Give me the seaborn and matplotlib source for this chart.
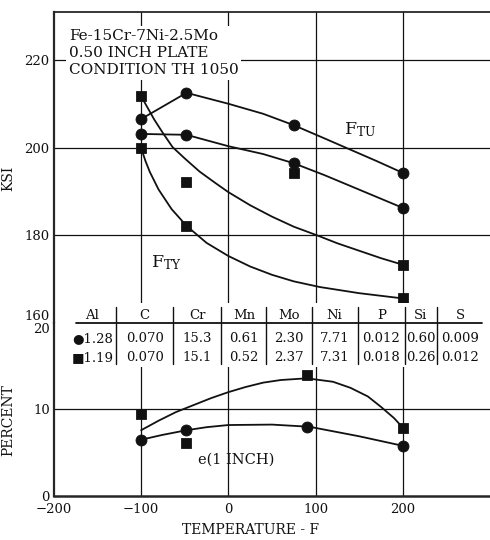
import numpy as np
import matplotlib
matplotlib.use("Agg")
import matplotlib.pyplot as plt
from matplotlib.patches import Rectangle
import seaborn as sns

# ---- strength curves (ksi) ----
FTU_HI_T = [-100, -48, 0, 40, 75, 110, 140, 170, 200]
FTU_HI_KSI = [206.6, 212.6, 210.1, 207.8, 205.2, 202.2, 199.6, 197.0, 194.3]
FTU_LO_T = [-100, -48, 0, 40, 75, 110, 140, 170, 200]
FTU_LO_KSI = [203.2, 203.0, 200.4, 198.6, 196.5, 193.8, 191.3, 188.8, 186.3]
FTY_HI_T = [-100, -92, -85, -75, -64, -50, -33, -15, 0, 25, 50, 75, 102, 125, 150, 175, 200]
FTY_HI_KSI = [211.8, 209.0, 206.5, 203.4, 200.2, 197.6, 194.6, 192.0, 189.9,
              186.9, 184.3, 182.0, 180.0, 178.2, 176.5, 174.8, 173.3]
FTY_LO_T = [-100, -95, -90, -80, -65, -48, -25, 0, 25, 50, 75, 105, 150, 200]
FTY_LO_KSI = [200.0, 197.0, 194.5, 190.5, 186.0, 182.2, 178.3, 175.3, 172.9,
              171.0, 169.5, 168.2, 166.8, 165.6]

# test points
KSI_CIRCLE_T = [-100, -100, -48, -48, 75, 75, 200, 200]
KSI_CIRCLE = [206.6, 203.2, 212.6, 203.0, 205.2, 196.6, 194.3, 186.3]
KSI_SQUARE_T = [-100, -100, -48, -48, 75, 200, 200]
KSI_SQUARE = [211.8, 200.0, 192.1, 182.2, 194.2, 173.3, 165.6]

# ---- elongation (percent) ----
ELONG_HI_T = [-100, -80, -60, -40, -20, 0, 20, 40, 60, 90, 120, 140, 160, 175, 190, 200]
ELONG_HI = [7.6, 8.7, 9.7, 10.5, 11.3, 12.0, 12.6, 13.1, 13.4, 13.6, 13.2, 12.5,
            11.5, 10.3, 9.0, 7.9]
ELONG_LO_T = [-100, -76, -48, -25, 0, 50, 93, 150, 200]
ELONG_LO = [6.5, 7.05, 7.6, 7.95, 8.2, 8.25, 8.0, 6.9, 5.8]
PCT_CIRCLE_T = [-100, -48, 90, 200]
PCT_CIRCLE = [6.5, 7.6, 8.0, 5.8]
PCT_SQUARE_T = [-100, -48, 90, 200]
PCT_SQUARE = [9.5, 6.1, 14.0, 7.8]

# ---- chemistry table ----
ELEMENTS = ["Al", "C", "Cr", "Mn", "Mo", "Ni", "P", "Si", "S"]
HEAT_CIRCLE = ["●1.28", "0.070", "15.3", "0.61", "2.30", "7.71", "0.012", "0.60", "0.009"]
HEAT_SQUARE = ["■1.19", "0.070", "15.1", "0.52", "2.37", "7.31", "0.018", "0.26", "0.012"]

X_TICKS = [-200, -100, 0, 100, 200]
KSI_TICKS = [160, 180, 200, 220]
PCT_TICKS = [0, 10, 20]

INK = "#111111"

sns.set_style("white")
plt.rcParams["font.family"] = ["DejaVu Serif", "DejaVu Sans"]
plt.rcParams["mathtext.fontset"] = "dejavuserif"

fig = plt.figure(figsize=(4.9, 5.4), dpi=100)
ax1 = fig.add_axes([0.110, 0.402, 0.890, 0.576])
ax2 = fig.add_axes([0.110, 0.0815, 0.890, 0.3205])

for ax in (ax1, ax2):
    ax.set_xlim(-200, 300)
    ax.set_xticks(X_TICKS)
    ax.tick_params(axis="x", length=0, labelsize=9.5, pad=5, colors=INK)
    ax.tick_params(axis="y", direction="in", length=5, width=1.2, labelsize=9.5,
                   pad=3, colors=INK)
    for t in X_TICKS[1:]:
        ax.axvline(t, color=INK, lw=0.9, zorder=1)
    ax.spines["right"].set_visible(False)

ax1.set_ylim(160, 231.1)
ax1.set_yticks(KSI_TICKS)
ax1.set_xticklabels([])
ax1.spines["bottom"].set_visible(False)
ax1.spines["left"].set_linewidth(1.6)
ax1.spines["top"].set_linewidth(1.3)
for v in KSI_TICKS[1:]:
    ax1.axhline(v, color=INK, lw=0.9, zorder=1)

ax2.set_ylim(0, 20)
ax2.set_yticks(PCT_TICKS)
ax2.spines["top"].set_visible(False)
ax2.spines["left"].set_linewidth(1.6)
ax2.spines["bottom"].set_linewidth(1.8)
ax2.axhline(PCT_TICKS[1], color=INK, lw=0.9, zorder=1)

# stacked 160 / 20 labels
ax1.get_yticklabels()[0].set_va("bottom")
ax2.get_yticklabels()[-1].set_va("top")

# strength curves
for xs, ys in [(FTU_HI_T, FTU_HI_KSI), (FTU_LO_T, FTU_LO_KSI),
               (FTY_HI_T, FTY_HI_KSI), (FTY_LO_T, FTY_LO_KSI)]:
    sns.lineplot(x=xs, y=ys, sort=False, estimator=None, color=INK, lw=1.3,
                 ax=ax1, zorder=3)
sns.scatterplot(x=KSI_CIRCLE_T, y=KSI_CIRCLE, marker="o", s=62, color=INK,
                edgecolor=INK, ax=ax1, zorder=5)
sns.scatterplot(x=KSI_SQUARE_T, y=KSI_SQUARE, marker="s", s=52, color=INK,
                edgecolor=INK, ax=ax1, zorder=5)

# elongation curves
for xs, ys in [(ELONG_HI_T, ELONG_HI), (ELONG_LO_T, ELONG_LO)]:
    sns.lineplot(x=xs, y=ys, sort=False, estimator=None, color=INK, lw=1.3,
                 ax=ax2, zorder=3)
sns.scatterplot(x=PCT_CIRCLE_T, y=PCT_CIRCLE, marker="o", s=62, color=INK,
                edgecolor=INK, ax=ax2, zorder=5)
sns.scatterplot(x=PCT_SQUARE_T, y=PCT_SQUARE, marker="s", s=52, color=INK,
                edgecolor=INK, ax=ax2, zorder=5)

# labels on the plot
ax1.text(-183, 227.3, "Fe-15Cr-7Ni-2.5Mo\n0.50 INCH PLATE\nCONDITION TH 1050",
         fontsize=11, color=INK, va="top", ha="left", linespacing=1.3, zorder=6,
         bbox=dict(facecolor="white", edgecolor="none", pad=2))
ax1.text(133, 204.2, r"$\mathregular{F_{TU}}$", fontsize=12.5, color=INK, va="center")
ax1.text(-88.5, 173.8, r"$\mathregular{F_{TY}}$", fontsize=12.5, color=INK, va="center")
ax2.text(9, 4.2, "e(1 INCH)", fontsize=10.5, color=INK, ha="center", va="center")

ax1.set_ylabel("KSI", fontsize=10, color=INK)
ax1.yaxis.set_label_coords(-0.089, 0.466)
ax2.set_ylabel("PERCENT", fontsize=10, color=INK)
ax2.yaxis.set_label_coords(-0.089, 0.44)
ax2.set_xlabel("TEMPERATURE - F", fontsize=10, color=INK)
ax2.xaxis.set_label_coords(0.45, -0.155)

# chemistry table drawn across the panel boundary
col_edges = [-182.8, -128.7, -63.2, -8.0, 43.7, 95.4, 148.3, 202.3, 239.1, 292.0]
ax2.add_patch(Rectangle((-180, 14.9), 472, 7.4, facecolor="white", edgecolor="none",
                        zorder=2, clip_on=False))
ax2.plot([-174.7, 290.8], [20.0, 20.0], color=INK, lw=1.3, clip_on=False, zorder=4)
for e in col_edges[1:-1]:
    ax2.plot([e, e], [15.3, 21.8], color=INK, lw=1.0, clip_on=False, zorder=4)
centers = [(a + b) / 2 for a, b in zip(col_edges[:-1], col_edges[1:])]
for c, el, v1, v2 in zip(centers, ELEMENTS, HEAT_CIRCLE, HEAT_SQUARE):
    ax2.text(c, 20.9, el, fontsize=9.5, ha="center", va="center", color=INK,
             clip_on=False, zorder=5)
    ax2.text(c, 18.15, v1, fontsize=9.5, ha="center", va="center", color=INK,
             clip_on=False, zorder=5)
    ax2.text(c, 15.95, v2, fontsize=9.5, ha="center", va="center", color=INK,
             clip_on=False, zorder=5)

fig.savefig("out.png", dpi=100, facecolor="white")
